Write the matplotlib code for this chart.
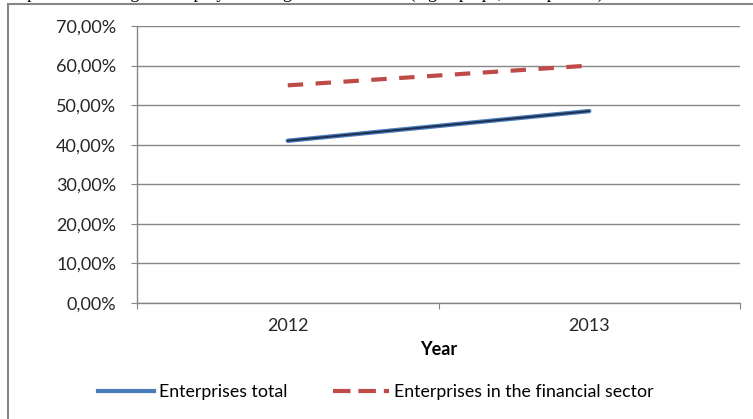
import matplotlib.pyplot as plt
from matplotlib.lines import Line2D
from matplotlib.patches import Rectangle
from matplotlib.ticker import FuncFormatter

years = ['2012', '2013']
total = [0.41, 0.485]
financial = [0.55, 0.60]
yticks = [0.0, 0.1, 0.2, 0.3, 0.4, 0.5, 0.6, 0.7]

W, H = 753, 419
plt.rcParams['font.family'] = ['Lato', 'DejaVu Sans']
fig = plt.figure(figsize=(W / 100, H / 100), dpi=100)

# caption line above the chart, mostly cut off by the page edge
fig.text(0.0, 1.0 + 2 / H, 'Graph 3: Percentage of employees using mobile devices (e.g. laptops, smartphones) and mobile Internet in enterprises, Slovakia',
         fontsize=13, family='Liberation Serif', va='baseline', ha='left', color='black')

# chart frame
fig.patches.append(Rectangle((8 / W, -0.1), 1.2, 1.1 - 4 / H, transform=fig.transFigure,
                             fill=False, edgecolor='#868686', linewidth=1.5))

ax = fig.add_axes([137 / W, 116 / H, 603 / W, 277 / H])
x = [0.5, 1.5]
ax.plot(x, total, color='#4A7EBB', linewidth=3.2, solid_capstyle='round', zorder=3)
ax.plot(x, total, color='#1F2F4F', linewidth=1.4, solid_capstyle='round', zorder=4)
ax.plot(x, financial, color='#BE4B48', linewidth=3.0, dashes=(3.7, 3.0), zorder=3)

ax.set_xlim(0, 2)
ax.set_ylim(0, 0.7)
ax.set_yticks(yticks)
ax.yaxis.set_major_formatter(FuncFormatter(lambda v, p: f'{v * 100:.2f}%'.replace('.', ',')))
ax.set_xticks([0, 1, 2])
ax.set_xticklabels([])
ax.set_xticks(x, minor=True)
ax.set_xticklabels(years, minor=True)
ax.tick_params(axis='x', which='minor', length=0, pad=11, labelsize=13, labelcolor='#262626')
ax.tick_params(axis='x', which='major', length=4, color='#868686')
ax.tick_params(axis='y', length=4, color='#868686', pad=11, labelsize=13, labelcolor='#262626')

ax.grid(axis='y', color='#868686', linewidth=1)
ax.set_axisbelow(True)
for s in ['top', 'right']:
    ax.spines[s].set_visible(False)
for s in ['left', 'bottom']:
    ax.spines[s].set_color('#868686')
    ax.spines[s].set_linewidth(1)

ax.set_xlabel('Year', fontsize=13, fontweight='bold', labelpad=5, color='black')

handles = [Line2D([], [], color='#4A7EBB', linewidth=3),
           Line2D([], [], color='#BE4B48', linewidth=3, dashes=(4.2, 1.9))]
fig.legend(handles, ['Enterprises total', 'Enterprises in the financial sector'],
           loc='center', bbox_to_anchor=(376 / W, 1 - 392 / H), ncol=2, frameon=False,
           fontsize=12.8, handlelength=3.1, handletextpad=0.3, columnspacing=2.6)

fig.savefig('out.png', dpi=100)
